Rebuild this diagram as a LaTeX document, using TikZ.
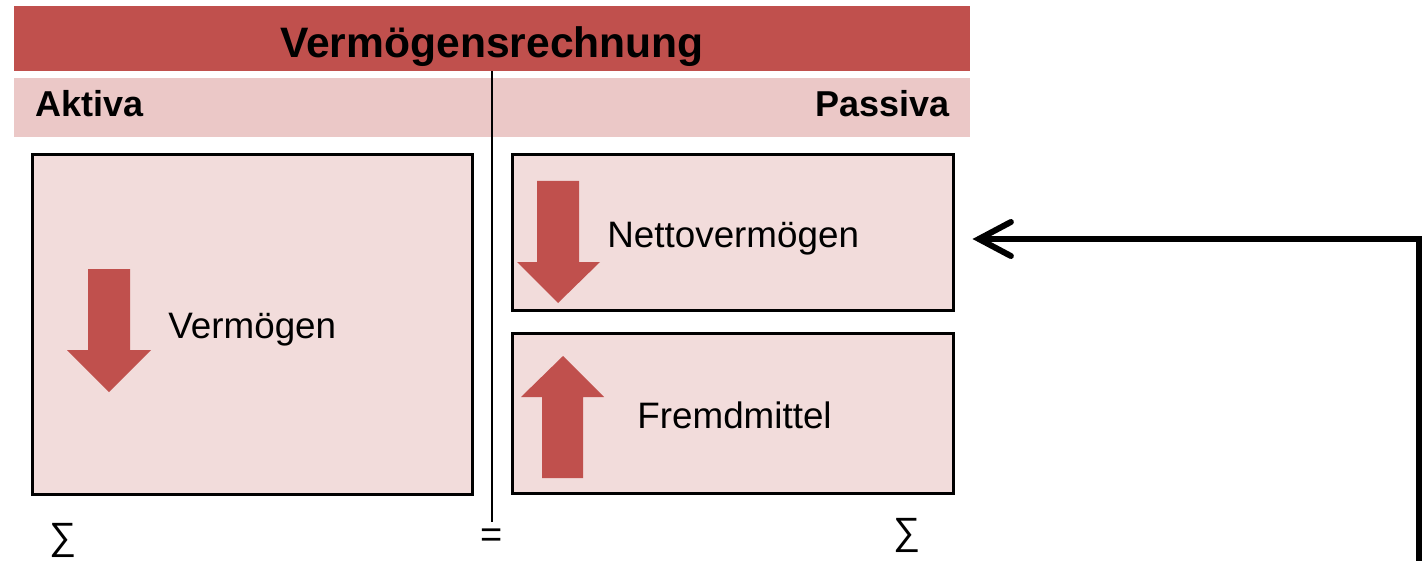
\documentclass[tikz,border=0pt]{standalone}
\usepackage{fontspec}
\setmainfont{Liberation Sans}
\usepackage{xcolor}
\usetikzlibrary{arrows.meta, positioning}

\definecolor{barred}{HTML}{C0504D}
\definecolor{barpink}{HTML}{EBC8C7}
\definecolor{boxpink}{HTML}{F2DCDB}

\begin{document}
\begin{tikzpicture}[x=0.5pt, y=-0.5pt,
        titlebar/.style={fill=barred, minimum width=478pt, minimum height=32.5pt, inner sep=0pt,
            font=\fontsize{21.3}{24}\selectfont\bfseries, text height=19.5pt, text depth=0pt},
        headbar/.style={fill=barpink, minimum width=478pt, minimum height=29.5pt, inner sep=0pt},
        headtext/.style={inner sep=0pt, font=\fontsize{18}{21}\selectfont\bfseries},
        account/.style={draw, line width=1.5pt, fill=boxpink, inner sep=0pt},
        boxtext/.style={inner sep=0pt, font=\fontsize{18.4}{21}\selectfont},
        sumtext/.style={inner sep=0pt, font=\fontsize{19}{21}\selectfont},
        flowarrow/.style={fill=barred},
        feedback/.style={line width=3pt, -{Straight Barb[length=16pt, width=17pt, line cap=round]}}]
        \useasboundingbox (0,0) rectangle (1422,561);

        \node [titlebar] (title) at (492, 38.5) {Vermögensrechnung};
        \node [headbar] (head) at (492, 107.5) {};
        \node [headtext, anchor=base west] (aktiva) at (35, 117) {Aktiva};
        \node [headtext, anchor=base east] (passiva) at (950, 117) {Passiva};

        \draw [line width=1.2pt] (title.south) -- ++(0, 451);

        \node [account, minimum width=220pt, minimum height=169.5pt] (verm) at (252, 324.5) {};
        \node [account, minimum width=220.5pt, minimum height=77.5pt] (netto) at (732.5, 232.5) {};
        \node [account, minimum width=220.5pt, minimum height=80pt] (fremd) at (732.5, 413) {};

        \fill [flowarrow] (88,269) -- (130,269) -- (130,350) -- (151,350) -- (109,392) -- (67,350) -- (88,350) -- cycle;
        \fill [flowarrow] (537,181) -- (579,181) -- (579,262) -- (600,262) -- (558,303) -- (517,262) -- (537,262) -- cycle;
        \fill [flowarrow] (563,356) -- (604,397) -- (583,397) -- (583,478) -- (542,478) -- (542,397) -- (521,397) -- cycle;

        \node [boxtext, anchor=base west] (vermtext) at (168, 338) {Vermögen};
        \node [boxtext, anchor=base west] (nettotext) at (607, 247) {Nettovermögen};
        \node [boxtext, anchor=base west] (fremdtext) at (637, 428) {Fremdmittel};

        \node [sumtext] (sumleft) at (63, 540) {∑};
        \node [sumtext] (equal) at (492, 538) {=};
        \node [sumtext] (sumright) at (907, 535) {∑};

        \coordinate (src) at (1419, 561);
        \draw [feedback, shorten >=9pt] (src) |- ([yshift=-3.25pt]netto.east);
    \end{tikzpicture}
\end{document}
